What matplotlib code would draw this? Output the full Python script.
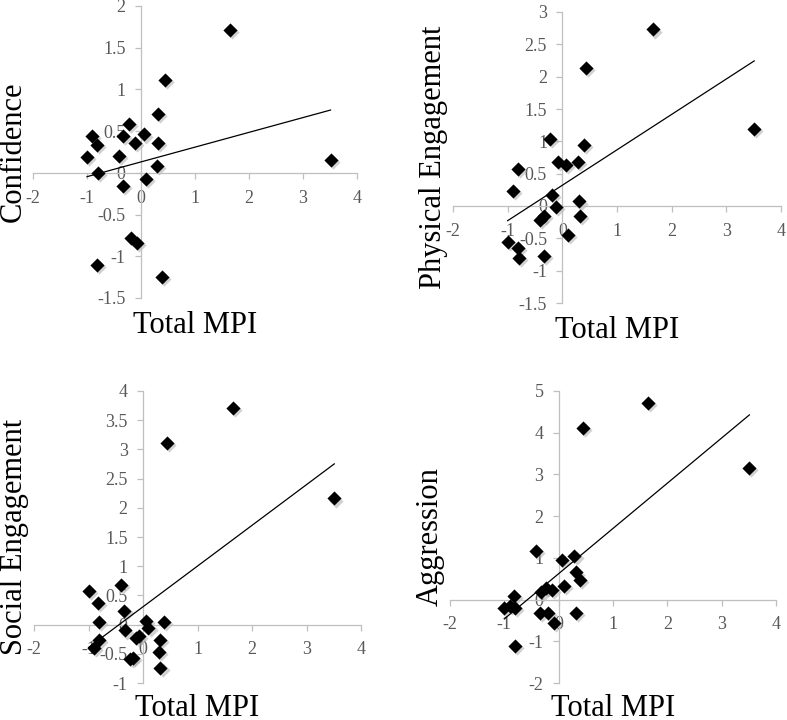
import numpy as np
import matplotlib
matplotlib.use("Agg")
import matplotlib.pyplot as plt
from matplotlib.ticker import FuncFormatter, MultipleLocator
from matplotlib.transforms import offset_copy

plt.rcParams['font.family'] = ['Liberation Serif', 'DejaVu Serif']

# Total MPI per subject (shared x for all four panels)
mpi = [-1.00, -0.90, -0.82, -0.81, -0.80, -0.41, -0.34, -0.33, -0.23, -0.19, -0.12,
       -0.08, 0.06, 0.10, 0.29, 0.31, 0.32, 0.39, 0.44, 1.65, 3.51]

confidence = [0.19, 0.44, -1.10, 0.33, 0.00, 0.20, 0.44, -0.16, 0.59, -0.78, 0.36,
              -0.84, 0.46, -0.07, 0.08, 0.36, 0.71, -1.25, 1.11, 1.71, 0.16]
physical = [-0.55, 0.23, 0.57, -0.65, -0.81, -0.22, -0.15, -0.77, 1.04, 0.17, -0.01,
            0.68, 0.64, -0.45, 0.68, 0.07, -0.15, 0.94, 2.13, 2.73, 1.19]
social = [0.58, -0.40, 0.37, 0.05, -0.26, 0.68, 0.24, -0.10, -0.59, -0.57, -0.23,
          -0.20, 0.07, -0.06, -0.47, -0.26, -0.75, 0.05, 3.11, 3.71, 2.16]
aggression = [-0.20, -0.16, 0.09, -0.21, -1.12, 1.17, -0.32, 0.17, 0.27, -0.31, 0.23,
              -0.57, 0.95, 0.33, 1.04, 0.65, -0.31, 0.47, 4.12, 4.72, 3.16]

labels = ['Confidence', 'Physical Engagement', 'Social Engagement', 'Aggression']
series = [confidence, physical, social, aggression]
ylims = [(-1.5, 2), (-1.5, 3), (-1, 4), (-2, 5)]
ysteps = [0.5, 0.5, 0.5, 1]

# axes rectangles in pixels: left, right, top, bottom
boxes = [(33, 357, 6, 298), (453, 781, 12, 303), (34, 361, 391, 683), (450, 776, 391, 683)]
xlab_y = [-0.12, -0.12, -0.113, -0.113]

W, H = 787, 720
fig = plt.figure(figsize=(W / 100, H / 100), dpi=100)

axis_grey = '#bfbfbf'
text_grey = '#595959'

for lab, ys, ylim, step, (l, r, t, b), xy in zip(labels, series, ylims, ysteps, boxes, xlab_y):
    ax = fig.add_axes([l / W, 1 - b / H, (r - l) / W, (b - t) / H])
    ax.set_facecolor('none')
    ax.set_xlim(-2, 4)
    ax.set_ylim(*ylim)

    for side in ['top', 'right']:
        ax.spines[side].set_visible(False)
    ax.spines['left'].set_position(('data', 0))
    ax.spines['bottom'].set_position(('data', 0))
    for side in ['left', 'bottom']:
        ax.spines[side].set_color(axis_grey)
        ax.spines[side].set_linewidth(0.9)

    ax.xaxis.set_major_locator(MultipleLocator(1))
    ax.yaxis.set_major_locator(MultipleLocator(step))
    fmt = FuncFormatter(lambda v, p: f'{v:g}')
    ax.xaxis.set_major_formatter(fmt)
    ax.yaxis.set_major_formatter(fmt)
    ax.tick_params(axis='both', direction='out', length=4, width=0.9, color=axis_grey,
                   labelcolor=text_grey, labelsize=13)
    ax.tick_params(axis='x', pad=8)
    ax.tick_params(axis='y', pad=7)

    # soft shadow behind the diamonds
    shadow = offset_copy(ax.transData, fig=fig, x=1.5, y=-1.5, units='points')
    ax.scatter(mpi, ys, marker='D', s=52, color='#9a9a9a', alpha=0.45,
               linewidths=0, transform=shadow, zorder=2, clip_on=False)
    ax.scatter(mpi, ys, marker='D', s=52, color='black', linewidths=0,
               zorder=3, clip_on=False)

    slope, icpt = np.polyfit(mpi, ys, 1)
    xs = np.array([min(mpi), max(mpi)])
    ax.plot(xs, slope * xs + icpt, color='black', linewidth=0.9, zorder=4)

    ax.text(-0.06, 0.5, lab, transform=ax.transAxes, rotation=90,
            ha='center', va='center', fontsize=22, color='black')
    ax.text(0.5, xy, 'Total MPI', transform=ax.transAxes,
            ha='center', va='baseline', fontsize=22, color='black')

fig.savefig('out.png', dpi=100)
